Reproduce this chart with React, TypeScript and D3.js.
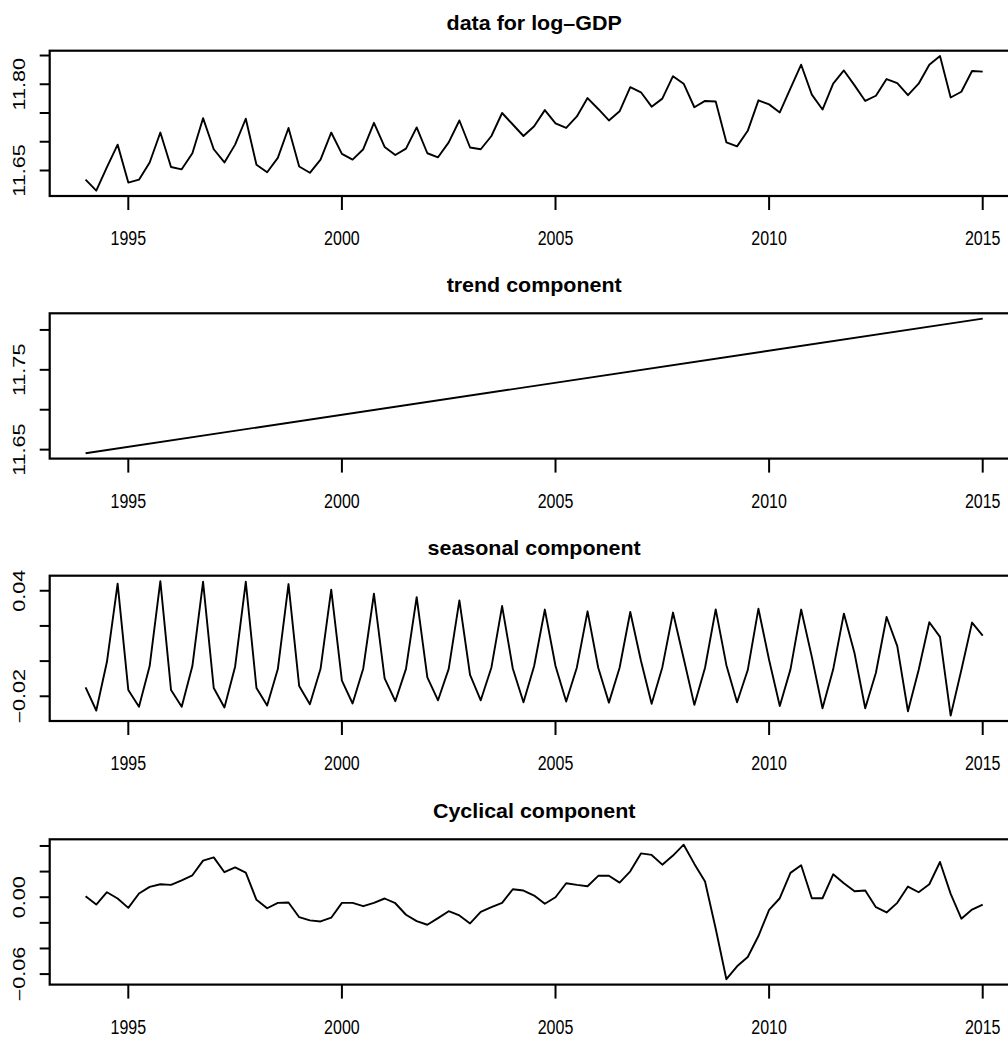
import React from "react";
import * as d3 from "d3";

// ---------- data (quarterly, 1994 Q1 – 2015 Q1) ----------
const startYear = 1994;
const quartersPerYear = 4;

const logGdp = [
  11.634, 11.615, 11.656, 11.695, 11.629, 11.634, 11.664, 11.716,
  11.656, 11.652, 11.680, 11.741, 11.687, 11.664, 11.695, 11.740,
  11.660, 11.647, 11.672, 11.724, 11.657, 11.646, 11.669, 11.716,
  11.679, 11.669, 11.687, 11.733, 11.691, 11.677, 11.688, 11.725,
  11.680, 11.673, 11.699, 11.737, 11.690, 11.687, 11.710, 11.750,
  11.730, 11.710, 11.727, 11.755, 11.732, 11.724, 11.744, 11.776,
  11.757, 11.737, 11.753, 11.795, 11.786, 11.761, 11.775, 11.814,
  11.801, 11.760, 11.771, 11.770, 11.699, 11.692, 11.719, 11.772,
  11.765, 11.751, 11.793, 11.834, 11.782, 11.756, 11.801, 11.824,
  11.798, 11.771, 11.780, 11.809, 11.802, 11.781, 11.801, 11.834,
  11.849, 11.777, 11.787, 11.823, 11.822,
];

const trendYears = [1994, 2015];
const trendValues = [11.6455, 11.8141];

const seasonal = [
  -0.0149, -0.0281, -0.0004, 0.0440, -0.0164, -0.0260, -0.0028, 0.0455,
  -0.0164, -0.0260, -0.0028, 0.0451, -0.0153, -0.0264, -0.0032, 0.0451,
  -0.0153, -0.0253, -0.0045, 0.0438, -0.0142, -0.0245, -0.0044, 0.0406,
  -0.0111, -0.0241, -0.0042, 0.0383, -0.0098, -0.0228, -0.0044, 0.0364,
  -0.0092, -0.0223, -0.0044, 0.0345, -0.0079, -0.0223, -0.0036, 0.0313,
  -0.0042, -0.0234, -0.0028, 0.0293, -0.0028, -0.0230, -0.0036, 0.0283,
  -0.0038, -0.0236, -0.0038, 0.0279, 0.0002, -0.0243, -0.0036, 0.0276,
  0.0015, -0.0249, -0.0038, 0.0294, -0.0023, -0.0234, -0.0051, 0.0298,
  0.0006, -0.0255, -0.0047, 0.0293, 0.0024, -0.0268, -0.0047, 0.0270,
  0.0044, -0.0268, -0.0066, 0.0251, 0.0085, -0.0285, -0.0051, 0.0221,
  0.0138, -0.0310, -0.0051, 0.0219, 0.0145,
];

const cyclical = [
  0.0008, -0.0057, 0.0039, -0.0010, -0.0083, 0.0029, 0.0081, 0.0101,
  0.0096, 0.0132, 0.0171, 0.0286, 0.0311, 0.0195, 0.0233, 0.0192,
  -0.0020, -0.0086, -0.0044, -0.0041, -0.0156, -0.0181, -0.0189, -0.0160,
  -0.0044, -0.0044, -0.0070, -0.0044, -0.0010, -0.0047, -0.0137, -0.0187,
  -0.0215, -0.0163, -0.0109, -0.0142, -0.0205, -0.0114, -0.0078, -0.0044,
  0.0062, 0.0052, 0.0013, -0.0051, 0.0000, 0.0109, 0.0096, 0.0086,
  0.0167, 0.0167, 0.0114, 0.0202, 0.0342, 0.0330, 0.0254, 0.0325,
  0.0410, 0.0260, 0.0122, -0.0246, -0.0640, -0.0539, -0.0467, -0.0303,
  -0.0098, -0.0008, 0.0190, 0.0249, -0.0008, -0.0008, 0.0179, 0.0109,
  0.0047, 0.0052, -0.0078, -0.0119, -0.0044, 0.0083, 0.0039, 0.0101,
  0.0275, 0.0026, -0.0168, -0.0096, -0.0057,
];

const xTicks = [1995, 2000, 2005, 2010, 2015];

const titles = [
  "data for log\u2013GDP",
  "trend component",
  "seasonal component",
  "Cyclical component",
];

const yTicksGdp = [11.65, 11.7, 11.75, 11.8, 11.85];
const yLabelsGdp = [11.65, 11.8];
const yTicksTrend = [11.65, 11.7, 11.75, 11.8];
const yLabelsTrend = [11.65, 11.75];
const yTicksSeasonal = [-0.02, 0.0, 0.02, 0.04];
const yLabelsSeasonal = [-0.02, 0.04];
const yTicksCyclical = [-0.06, -0.04, -0.02, 0.0, 0.02, 0.04];
const yLabelsCyclical = [-0.06, 0.0];

// ---------- layout ----------
const W = 1008;
const H = 1039;
const plotLeft = 49.7;
const plotRight = 1018.6;
const panelTops = [50.7, 313.3, 575.7, 839.3];
const panelHeight = 145.3;
const FONT = "'Liberation Sans', Arial, Helvetica, sans-serif";

type Series = { t: number[]; v: number[] };

const quarterTimes = (n: number) =>
  d3.range(n).map((i) => startYear + i / quartersPerYear);

const panels: {
  title: string;
  series: Series;
  ticks: number[];
  labels: number[];
}[] = [
  { title: titles[0], series: { t: quarterTimes(logGdp.length), v: logGdp }, ticks: yTicksGdp, labels: yLabelsGdp },
  { title: titles[1], series: { t: trendYears, v: trendValues }, ticks: yTicksTrend, labels: yLabelsTrend },
  { title: titles[2], series: { t: quarterTimes(seasonal.length), v: seasonal }, ticks: yTicksSeasonal, labels: yLabelsSeasonal },
  { title: titles[3], series: { t: quarterTimes(cyclical.length), v: cyclical }, ticks: yTicksCyclical, labels: yLabelsCyclical },
];

const rPad = (ext: [number, number]): [number, number] => {
  const r = ext[1] - ext[0];
  return [ext[0] - 0.04 * r, ext[1] + 0.04 * r];
};

const xDomain = rPad([startYear, startYear + (logGdp.length - 1) / quartersPerYear]);
const x = d3.scaleLinear().domain(xDomain).range([plotLeft, plotRight]);
const fmt = d3.format(".2f");

function Panel({ p, top }: { p: (typeof panels)[number]; top: number }) {
  const bottom = top + panelHeight;
  const y = d3
    .scaleLinear()
    .domain(rPad(d3.extent(p.series.v) as [number, number]))
    .range([bottom, top]);
  const line = d3
    .line<number>()
    .x((_, i) => x(p.series.t[i]))
    .y((d) => y(d));
  const cx = (plotLeft + plotRight) / 2;
  return (
    <g>
      <text
        transform={`translate(${cx},${top - 21}) scale(1.1,1)`}
        textAnchor="middle"
        fontFamily={FONT}
        fontWeight="bold"
        fontSize={19.5}
        fill="#000"
      >
        {p.title}
      </text>
      <path d={line(p.series.v) || ""} fill="none" stroke="#000" strokeWidth={1.9} strokeLinejoin="round" />
      <rect
        x={plotLeft}
        y={top}
        width={plotRight - plotLeft}
        height={panelHeight}
        fill="none"
        stroke="#000"
        strokeWidth={2.2}
      />
      {xTicks.map((t) => (
        <g key={t}>
          <line x1={x(t)} x2={x(t)} y1={bottom} y2={bottom + 14} stroke="#000" strokeWidth={2} />
          <text
            transform={`translate(${x(t)},${bottom + 49}) scale(1,1.25)`}
            textAnchor="middle"
            fontFamily={FONT}
            fontSize={16}
            fill="#000"
          >
            {t}
          </text>
        </g>
      ))}
      {p.ticks.map((v) => (
        <line key={v} x1={plotLeft - 10} x2={plotLeft} y1={y(v)} y2={y(v)} stroke="#000" strokeWidth={2} />
      ))}
      {p.labels.map((v) => (
        <text
          key={v}
          transform={`translate(25,${y(v)}) rotate(-90) scale(1.35,1)`}
          textAnchor="middle"
          fontFamily={FONT}
          fontSize={16}
          fill="#000"
        >
          {fmt(v)}
        </text>
      ))}
    </g>
  );
}

export default function App() {
  return (
    <div style={{ position: "absolute", left: 0, top: 0 }}>
      <svg width={W} height={H} viewBox={`0 0 ${W} ${H}`} style={{ display: "block", background: "#fff" }}>
        <rect x={0} y={0} width={W} height={H} fill="#fff" />
        {panels.map((p, i) => (
          <Panel key={i} p={p} top={panelTops[i]} />
        ))}
      </svg>
    </div>
  );
}
